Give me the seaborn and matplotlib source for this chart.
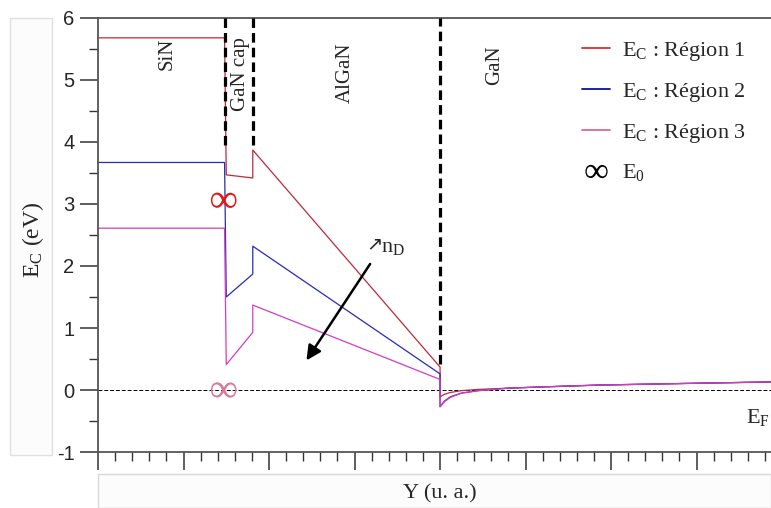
import numpy as np
import pandas as pd
import matplotlib
matplotlib.use("Agg")
import matplotlib.pyplot as plt
import seaborn as sns
from matplotlib.lines import Line2D
from matplotlib.patches import Rectangle
from matplotlib.ticker import MultipleLocator, FuncFormatter

# position along the structure (arbitrary units) and conduction band edge (eV)
x_pos = [0.0, 1.48, 1.50, 1.81, 1.81, 4.00, 4.00, 4.05, 4.12, 4.25, 4.45, 4.80, 5.20, 5.87, 7.04, 7.87]
ec_region1 = [5.68, 5.68, 3.47, 3.42, 3.87, 0.37, -0.11, -0.07, -0.04, -0.01, 0.01, 0.03, 0.05, 0.08, 0.11, 0.13]
ec_region2 = [3.67, 3.67, 1.50, 1.87, 2.32, 0.26, -0.27, -0.18, -0.11, -0.05, -0.01, 0.03, 0.05, 0.08, 0.11, 0.13]
ec_region3 = [2.61, 2.61, 0.41, 0.93, 1.37, 0.17, -0.27, -0.19, -0.12, -0.05, -0.01, 0.03, 0.05, 0.08, 0.11, 0.13]
region_names = ["E$_\\mathrm{C}$ : Région 1", "E$_\\mathrm{C}$ : Région 2", "E$_\\mathrm{C}$ : Région 3"]

# E0 levels
e0_x = [1.47, 1.47]
e0_y = [3.06, 0.0]

# layer interfaces and names
interfaces = [1.48, 1.81, 4.00]
interface_bottom = [3.95, 3.95, 0.42]
layers = ["SiN", "GaN cap", "AlGaN", "GaN"]

df = pd.DataFrame({
    "Y": x_pos * 3,
    "Ec": ec_region1 + ec_region2 + ec_region3,
    "region": [region_names[0]] * len(x_pos) + [region_names[1]] * len(x_pos) + [region_names[2]] * len(x_pos),
})

sns.set_style("white")
plt.rcParams["font.family"] = ["Liberation Serif", "DejaVu Serif"]
plt.rcParams["mathtext.fontset"] = "custom"
plt.rcParams["mathtext.rm"] = "Liberation Serif"
plt.rcParams["mathtext.it"] = "Liberation Serif:italic"

line_colors = ["#c0283c", "#2a2ab8", "#d43cbe"]
legend_colors = ["#d9302f", "#10109a", "#e0688e"]

fig = plt.figure(figsize=(7.71, 5.08), dpi=100)
ax = fig.add_axes([98 / 771, 1 - 452 / 508, 1 - 98 / 771, 434 / 508])

# faint frames around the axis titles
fig.patches.append(Rectangle((10 / 771, 1 - 455 / 508), 42 / 771, 437 / 508, transform=fig.transFigure,
                             facecolor="#fcfcfc", edgecolor="#e0e0e0", lw=1, zorder=-5))
fig.patches.append(Rectangle((98 / 771, 0.0), 1 - 98 / 771, 34 / 508, transform=fig.transFigure,
                             facecolor="#fcfcfc", edgecolor="#d8d8d8", lw=1, zorder=-5))

sns.lineplot(data=df, x="Y", y="Ec", hue="region", palette=line_colors, sort=False,
             estimator=None, lw=0.9, legend=False, ax=ax)

ax.axhline(0, color="black", ls=(0, (4, 2)), lw=0.7, zorder=1)
for xi, yb in zip(interfaces, interface_bottom):
    ax.plot([xi, xi], [yb, 6], color="black", ls=(0, (3, 1.6)), lw=2.3, zorder=3)

ax.scatter(e0_x, e0_y, marker="$\\infty$", s=340, c=["#e01818", "#d87a9a"], lw=0, zorder=5)

label_x = [0.81, 1.665, 2.89, 4.64]
label_top = [5.69, 5.69, 5.61, 5.56]
for name, lx, ly in zip(layers, label_x, label_top):
    ax.text(lx, ly, name, rotation=90, ha="center", va="top", fontsize=15)

ax.annotate("", xy=(2.42, 0.44), xytext=(3.20, 2.07),
            arrowprops=dict(arrowstyle="-|>", lw=1.8, color="black", mutation_scale=22))
ax.text(3.14, 2.36, "↗", fontsize=14, ha="left", va="center", family="DejaVu Sans")
ax.text(3.31, 2.30, "n$_\\mathrm{D}$", fontsize=16, ha="left", va="center")
ax.text(7.86, -0.45, "E$_\\mathrm{F}$", fontsize=16, ha="right", va="center")

handles = [Line2D([], [], color=c, lw=1.3) for c in legend_colors]
handles.append(Line2D([], [], ls="none", marker="$\\infty$", color="black", markersize=16,
                      markeredgewidth=0))
ax.legend(handles, region_names + ["E$_\\mathrm{0}$"], loc="upper left",
          bbox_to_anchor=(0.703, 0.975), frameon=False, fontsize=16, handlelength=1.25,
          handletextpad=0.55, labelspacing=0.8, borderpad=0)

ax.set_xlim(0, 7.87)
ax.set_ylim(-1, 6)
ax.xaxis.set_major_locator(MultipleLocator(1))
ax.xaxis.set_minor_locator(MultipleLocator(0.2))
ax.yaxis.set_major_locator(MultipleLocator(1))
ax.yaxis.set_minor_locator(MultipleLocator(0.5))
ax.tick_params(axis="both", which="both", bottom=True, left=True, top=False, right=False)
ax.tick_params(axis="both", which="major", direction="out", length=13, width=1.1, color="#333333")
ax.tick_params(axis="both", which="minor", direction="out", length=6.5, width=1.0, color="#333333")
ax.tick_params(axis="x", labelbottom=False)
ax.tick_params(axis="y", labelsize=14.5, pad=4)
ax.yaxis.set_major_formatter(FuncFormatter(lambda v, p: f"{v:.0f}"))
for lab in ax.get_yticklabels():
    lab.set_family(["Liberation Sans", "DejaVu Sans"])

for side in ["left", "bottom", "top"]:
    ax.spines[side].set_color("#555555")
    ax.spines[side].set_linewidth(1.3)
ax.spines["right"].set_visible(False)

ax.set_xlabel("Y (u. a.)", fontsize=16, va="center")
ax.xaxis.set_label_coords((440 - 98) / 673, -42 / 434)
ax.set_ylabel("E$_\\mathrm{C}$ (eV)", fontsize=17, va="center")
ax.yaxis.set_label_coords((33 - 98) / 673, 0.49)

fig.savefig("out.png", dpi=100)
